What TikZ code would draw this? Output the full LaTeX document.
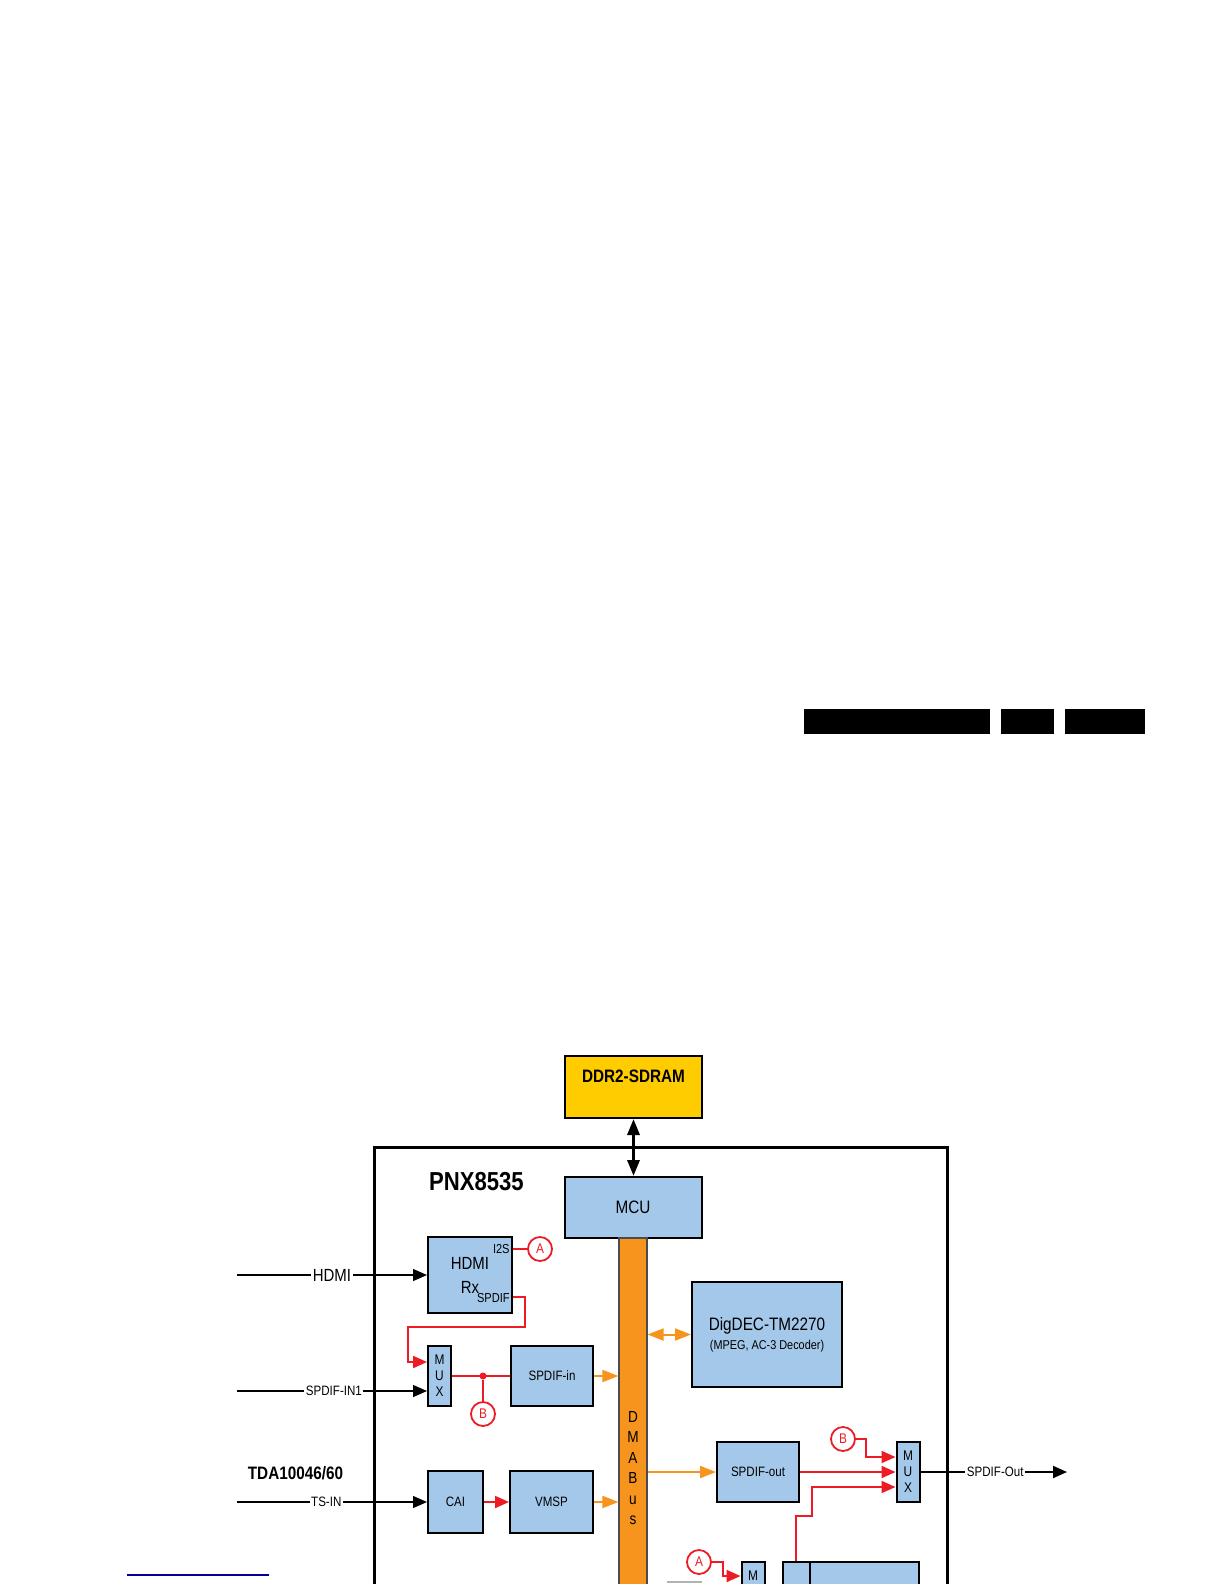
\documentclass[tikz,border=0pt]{standalone}
\usepackage{fontspec}
\setmainfont{Liberation Sans}[FakeStretch=0.85]
\usepackage{xcolor}
\usepackage{tikz}
\usetikzlibrary{shapes.geometric, arrows.meta, positioning}

\begin{document}
\begin{tikzpicture}[x=0.5pt, y=-0.5pt, font=\fontsize{6.8}{8}\selectfont,
  unit/.style={draw, line width=1pt, fill=unitblue, inner sep=0pt, align=center},
  muxbox/.style={unit, minimum width=11.5pt, minimum height=30pt, font=\fontsize{7}{8}\selectfont},
  ringlabel/.style={circle, draw=sigred, line width=0.9pt, fill=white, text=sigred, inner sep=0pt, minimum size=12pt, font=\fontsize{7}{8}\selectfont},
  redwire/.style={draw=sigred, line width=1pt, -{Triangle[length=7pt,width=6pt]}},
  buswire/.style={draw=busorange, line width=1pt, -{Triangle[length=8pt,width=6pt]}},
  inwire/.style={draw, line width=0.6pt, -{Triangle[length=7pt,width=6pt]}},
  wirelabel/.style={fill=white, inner sep=0.8pt}]
  \definecolor{unitblue}{HTML}{A4C8EA}
  \definecolor{busorange}{HTML}{F7941D}
  \definecolor{ddryellow}{HTML}{FFCC00}
  \definecolor{sigred}{HTML}{ED1C24}

  \useasboundingbox (0,0) rectangle (1224,1584);
  \clip (0,0) rectangle (1224,1584);
  \fill[white] (0,0) rectangle (1224,1584);

  % header bars
  \fill (804,709) rectangle (990,734);
  \fill (1001,709) rectangle (1054,734);
  \fill (1065,709) rectangle (1145,734);

  % chip outline
  \node[draw, line width=1.5pt, fill=white, minimum width=286.5pt, minimum height=276.5pt] (pnx) at (660.5,1423.5) {};
  \node[anchor=west, font=\fontsize{13}{15}\selectfont\bfseries] (pnxname) at (422,1182) {PNX8535};
  \node[font=\fontsize{9}{11}\selectfont\bfseries] (tdaname) at (295.5,1473) {TDA10046/60};

  \node[unit, fill=ddryellow, minimum width=68.5pt, minimum height=31pt] (ddr) at (633.5,1087) {};
  \node[font=\fontsize{9}{11}\selectfont\bfseries] (ddrname) at (633.5,1076) {DDR2-SDRAM};
  \node[unit, minimum width=68.5pt, minimum height=30.5pt, font=\fontsize{9}{11}\selectfont] (mcu) at (633,1207.5) {MCU};

  \node[draw=black!70, line width=0.6pt, fill=busorange, minimum width=14pt, minimum height=230pt, inner sep=0pt, align=center, font=\fontsize{8}{10.2}\selectfont] (dmabus) at (633,1468) {D\\M\\A\\B\\u\\s};

  \node[unit, minimum width=42pt, minimum height=38pt, font=\fontsize{8.8}{12}\selectfont] (hdmirx) at (470,1275) {HDMI\\Rx};
  \node[anchor=east, inner sep=0pt, font=\fontsize{6.5}{7}\selectfont] (i2slabel) at (510,1249) {I2S};
  \node[anchor=east, inner sep=0pt, font=\fontsize{6.5}{7}\selectfont] (spdiflabel) at (510,1298) {SPDIF};

  \node[muxbox] (mux1) at (439.5,1376) {M\\U\\X};
  \node[unit, minimum width=41pt, minimum height=30pt] (spdifin) at (552,1376) {SPDIF-in};
  \node[unit, minimum width=27.5pt, minimum height=31pt] (cai) at (455.5,1502) {CAI};
  \node[unit, minimum width=41.5pt, minimum height=31pt] (vmsp) at (551.5,1502) {VMSP};
  \node[unit, minimum width=75pt, minimum height=52.5pt, font=\fontsize{9}{9.5}\selectfont] (digdec) at (767,1334.5) {DigDEC-TM2270\\{\fontsize{6.4}{7}\selectfont (MPEG, AC-3 Decoder)}};
  \node[unit, minimum width=41pt, minimum height=30pt] (spdifout) at (758,1472) {SPDIF-out};
  \node[muxbox] (mux2) at (908,1472) {M\\U\\X};
  \node[muxbox] (mux3) at (753,1592) {};
  \node[font=\fontsize{7}{8}\selectfont] (mux3name) at (753,1576) {M};
  \node[unit, minimum width=68pt, minimum height=44pt] (audiobox) at (851,1606) {};
  \draw[line width=1pt] ([xshift=14pt]audiobox.north west) -- ([xshift=14pt]audiobox.south west);

  \node[ringlabel] (tagA1) at (540,1249) {A};
  \node[ringlabel] (tagB1) at (483,1414) {B};
  \node[ringlabel] (tagB2) at (843,1439) {B};
  \node[ringlabel] (tagA2) at (699,1562) {A};
  \node[circle, fill=sigred, inner sep=0pt, minimum size=3.5pt] (splitB) at (483,1376) {};

  % inputs
  \coordinate (hdmiin) at (237,1275);
  \coordinate (spdifin1) at (237,1391);
  \coordinate (tsin) at (237,1502);
  \coordinate (spdifoutend) at (1067,1472);
  \draw[inwire] (hdmiin) -- node[wirelabel, pos=0.5, font=\fontsize{8.8}{10}\selectfont] {HDMI} (hdmirx.west);
  \draw[inwire] (spdifin1) -- node[wirelabel, pos=0.51] {SPDIF-IN1} (spdifin1 -| mux1.west);
  \draw[inwire] (tsin) -- node[wirelabel, pos=0.47] {TS-IN} (cai.west);
  \draw[inwire, line width=1pt] (mux2) -- node[wirelabel, pos=0.51] {SPDIF-Out} (spdifoutend);

  \draw[line width=1.6pt, {Triangle[length=8pt,width=6pt]}-{Triangle[length=8pt,width=6pt]}] (ddr) -- (ddr |- mcu.north);

  % red audio paths
  \draw[redwire, -] ([yshift=13pt]hdmirx.east) -- (tagA1);
  \draw[redwire] ([yshift=-11pt]hdmirx.east) -- ++(12,0) -- ++(0,30) -| ([xshift=-9.5pt,yshift=7pt]mux1.west) -- ([yshift=7pt]mux1.west);
  \draw[redwire, -] (mux1) -- (spdifin);
  \draw[redwire, -] (splitB) -- (tagB1);
  \draw[redwire] (cai) -- (vmsp);
  \draw[redwire] (spdifout) -- (mux2);
  \draw[redwire] (tagB2) -| ([xshift=-15pt,yshift=7.5pt]mux2.west) -- ([yshift=7.5pt]mux2.west);
  \draw[redwire] ([xshift=7pt]audiobox.north west) -- ++(0,-45) -- ++(16,0) |- ([yshift=-7.5pt]mux2.west);
  \draw[redwire] (tagA2) -| ([xshift=-9pt,yshift=-7.5pt]mux3.north west) -- ([yshift=-7.5pt]mux3.north west);

  % bus arrows
  \draw[buswire] (spdifin) -- (spdifin -| dmabus.west);
  \draw[buswire] (vmsp) -- (vmsp -| dmabus.west);
  \draw[buswire, {Triangle[length=8pt,width=6pt]}-{Triangle[length=8pt,width=6pt]}] (digdec -| dmabus.east) -- (digdec);
  \draw[buswire] (spdifout -| dmabus.east) -- (spdifout);

  \draw[gray!60, line width=1pt] (667,1582) -- (702,1582);
  \draw[blue!60!black, line width=0.7pt] (127,1575) -- (269,1575);
\end{tikzpicture}
\end{document}
